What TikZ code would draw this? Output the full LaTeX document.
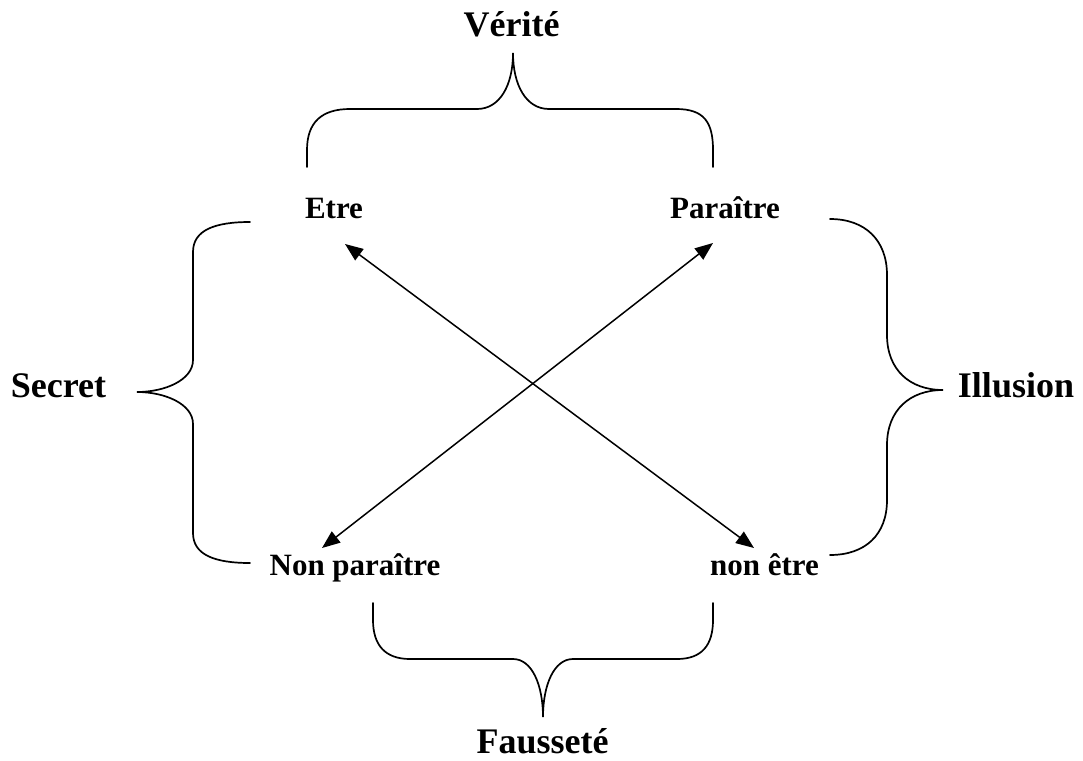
\documentclass[tikz,border=0pt]{standalone}
\usepackage{fontspec}
\setmainfont{Liberation Serif}
\usetikzlibrary{arrows.meta}
\tikzset{
  big/.style={inner sep=0pt, anchor=base, font=\fontsize{36}{40}\selectfont\bfseries},
  small/.style={inner sep=0pt, anchor=base, font=\fontsize{31}{36}\selectfont\bfseries},
  bracepath/.style={line width=1.7pt, line cap=round},
  link/.style={line width=1.5pt, {Triangle[length=18pt,width=14pt]}-{Triangle[length=18pt,width=14pt]}}
}
\begin{document}
\begin{tikzpicture}[x=1pt,y=-1pt]
\useasboundingbox (0,0) rectangle (1083,760);
% labels
\node[big] (verite) at (511.5,37) {Vérité};
\node[big] (faussete) at (542.5,753) {Fausseté};
\node[big] (secret) at (58.5,397) {Secret};
\node[big] (illusion) at (1016,397) {Illusion};
\node[small] (etre) at (334,218) {Etre};
\node[small] (paraitre) at (725,218) {Paraître};
\node[small] (nonparaitre) at (355,575) {Non paraître};
\node[small] (nonetre) at (764.5,575) {non être};
% arrow ends
\coordinate (a1) at (345,244);
\coordinate (a2) at (754,548);
\coordinate (b1) at (713,243);
\coordinate (b2) at (322,548);
\draw[link] (a1) -- (a2);
\draw[link] (b1) -- (b2);
% top brace (Vérité)
\draw[bracepath] (307,167) -- (307,150) .. controls (307,122) and (322,109) .. (350,109)
  -- (477,109) .. controls (500,109) and (513,85) .. (513,53)
  .. controls (513,85) and (526,109) .. (549,109)
  -- (676,109) .. controls (704,109) and (713,122) .. (713,150) -- (713,167);
% bottom brace (Fausseté)
\draw[bracepath] (373,603) -- (373,620) .. controls (373,645) and (385,659) .. (410,659)
  -- (513,659) .. controls (532,659) and (543,685) .. (543,717)
  .. controls (543,685) and (554,659) .. (573,659)
  -- (677,659) .. controls (702,659) and (713,645) .. (713,620) -- (713,603);
% left brace (Secret)
\draw[bracepath] (250,222) .. controls (215,222) and (193,230) .. (193,252)
  -- (193,360) .. controls (193,380) and (165,392) .. (137,392)
  .. controls (165,392) and (193,404) .. (193,424)
  -- (193,533) .. controls (193,555) and (215,563) .. (250,563);
% right brace (Illusion)
\draw[bracepath] (830,219) .. controls (865,219) and (887,240) .. (887,275)
  -- (887,335) .. controls (887,370) and (910,390) .. (943,390)
  .. controls (910,390) and (887,410) .. (887,445)
  -- (887,500) .. controls (887,535) and (865,555) .. (830,555);
\end{tikzpicture}
\end{document}
